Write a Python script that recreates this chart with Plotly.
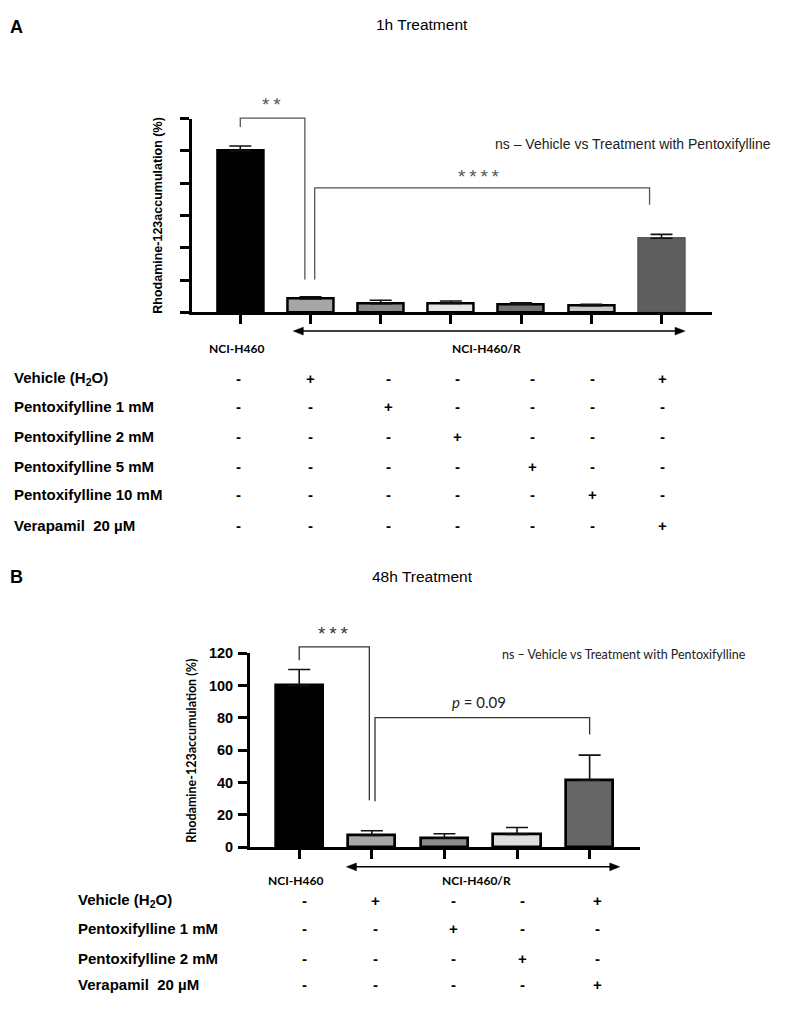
import plotly.graph_objects as go

W, H = 787, 1009

# ---------------- data ----------------
a_groups = ["NCI-H460", "Vehicle", "PTX 1 mM", "PTX 2 mM", "PTX 5 mM", "PTX 10 mM", "Verapamil 20 µM"]
a_means = [100, 8.3, 5.4, 5.6, 5.0, 4.1, 45.9]
a_upper = [103, 9.7, 7.5, 7.1, 6.0, 5.0, 48.3]

b_groups = ["NCI-H460", "Vehicle", "PTX 1 mM", "PTX 2 mM", "Verapamil 20 µM"]
b_means = [100, 7.3, 5.7, 7.9, 41.4]
b_upper = [110, 10.2, 8.3, 12.2, 57.0]

y_ticks = [0, 20, 40, 60, 80, 100, 120]

a_row_labels = ["Vehicle (H<sub>2</sub>O)", "Pentoxifylline 1 mM", "Pentoxifylline 2 mM",
                "Pentoxifylline 5 mM", "Pentoxifylline 10 mM", "Verapamil  20 µM"]
a_table = [[0, 1, 0, 0, 0, 0, 1],
           [0, 0, 1, 0, 0, 0, 0],
           [0, 0, 0, 1, 0, 0, 0],
           [0, 0, 0, 0, 1, 0, 0],
           [0, 0, 0, 0, 0, 1, 0],
           [0, 0, 0, 0, 0, 0, 1]]

b_row_labels = ["Vehicle (H<sub>2</sub>O)", "Pentoxifylline 1 mM", "Pentoxifylline 2 mM", "Verapamil  20 µM"]
b_table = [[0, 1, 0, 0, 1],
           [0, 0, 1, 0, 0],
           [0, 0, 0, 1, 0],
           [0, 0, 0, 0, 1]]

# ---------------- styles ----------------
a_fill = ["#000000", "#a6a6a6", "#8c8c8c", "#e6e6e6", "#737373", "#c8c8c8", "#5f5f5f"]
a_line = ["#000000"] * 6 + ["#5a5a5a"]
b_fill = ["#000000", "#a6a6a6", "#8c8c8c", "#dedede", "#666666"]
b_line = ["#000000"] * 5

ARIAL = "Liberation Sans, Arial, sans-serif"
CALIBRI = "Lato, Carlito, Calibri, sans-serif"


def px(x):
    return x / W


def py(y):
    return 1 - y / H


# axis geometry (pixels)
A_X0, A_X1, A_Y0, A_Y1 = 191.7, 711.7, 309.3, 112.3
B_X0, B_X1, B_Y0, B_Y1 = 250.0, 640.0, 852.7, 655.7
A_XR = [-0.692, 6.715]
B_XR = [-0.678, 4.694]
YR = [0, 120]


def d2p(panel, x, y):
    if panel == "A":
        x0, x1, y0, y1, xr = A_X0, A_X1, A_Y0, A_Y1, A_XR
    else:
        x0, x1, y0, y1, xr = B_X0, B_X1, B_Y0, B_Y1, B_XR
    pxv = x0 + (x - xr[0]) / (xr[1] - xr[0]) * (x1 - x0)
    pyv = y0 - (y - YR[0]) / (YR[1] - YR[0]) * (y0 - y1)
    return pxv, pyv


fig = go.Figure()

fig.add_trace(go.Bar(
    x=list(range(len(a_means))), y=a_means, width=0.655,
    marker=dict(color=a_fill, line=dict(color=a_line, width=2.5)),
    error_y=dict(type="data", symmetric=False,
                 array=[u - m for u, m in zip(a_upper, a_means)],
                 arrayminus=[0] * len(a_means), color="#111111", thickness=1.6, width=11),
    xaxis="x", yaxis="y", showlegend=False, hovertext=a_groups))

fig.add_trace(go.Bar(
    x=list(range(len(b_means))), y=b_means, width=0.65,
    marker=dict(color=b_fill, line=dict(color=b_line, width=2.7)),
    error_y=dict(type="data", symmetric=False,
                 array=[u - m for u, m in zip(b_upper, b_means)],
                 arrayminus=[0] * len(b_means), color="#111111", thickness=1.6, width=11),
    xaxis="x2", yaxis="y2", showlegend=False, hovertext=b_groups))

axis_common = dict(showgrid=False, zeroline=False, showline=True, linecolor="black",
                   linewidth=3, ticks="outside", tickwidth=3, tickcolor="black", ticklen=9)

fig.update_layout(
    width=W, height=H, margin=dict(l=0, r=0, t=0, b=0),
    paper_bgcolor="white", plot_bgcolor="white",
    xaxis=dict(domain=[px(A_X0), px(A_X1)], range=A_XR, anchor="y",
               tickvals=list(range(len(a_means))), showticklabels=False, **axis_common),
    yaxis=dict(domain=[py(A_Y0), py(A_Y1)], range=YR, anchor="x",
               tickvals=y_ticks, showticklabels=False, **axis_common),
    xaxis2=dict(domain=[px(B_X0), px(B_X1)], range=B_XR, anchor="y2",
                tickvals=list(range(len(b_means))), showticklabels=False, **axis_common),
    yaxis2=dict(domain=[py(B_Y0), py(B_Y1)], range=YR, anchor="x2",
                tickvals=y_ticks, showticklabels=True, ticklabelstandoff=2,
                tickfont=dict(family=ARIAL, size=14.5, color="black", weight="bold"), **axis_common),
    bargap=0,
)

shapes = []
annotations = []


def text(xp, yp, s, size, family=ARIAL, bold=False, color="black", xanchor="center", angle=0):
    if bold:
        s = "<b>" + s + "</b>"
    annotations.append(dict(x=px(xp), y=py(yp), xref="paper", yref="paper", text=s,
                            showarrow=False, xanchor=xanchor, yanchor="middle",
                            textangle=angle,
                            font=dict(family=family, size=size, color=color)))


def path_shape(points, color, width, fill=None, close=False):
    d = "M " + " L ".join("{},{}".format(px(a), py(b)) for a, b in points)
    if close:
        d += " Z"
    s = dict(type="path", path=d, xref="paper", yref="paper",
             line=dict(color=color, width=width))
    if fill:
        s["fillcolor"] = fill
    shapes.append(s)


def bracket(panel, xl, ylb, xr, yrb, ytop, color, width=1.3):
    pts = [d2p(panel, xl, ylb), d2p(panel, xl, ytop), d2p(panel, xr, ytop), d2p(panel, xr, yrb)]
    path_shape(pts, color, width)


def arrow(panel, xl, xr, ypix):
    l = d2p(panel, xl, 0)[0]
    r = d2p(panel, xr, 0)[0]
    hl, hw = 10, 4
    path_shape([(l + hl - 1, ypix), (r - hl + 1, ypix)], "black", 1.5)
    path_shape([(l, ypix), (l + hl, ypix - hw), (l + hl, ypix + hw)], "black", 0.5, fill="black", close=True)
    path_shape([(r, ypix), (r - hl, ypix - hw), (r - hl, ypix + hw)], "black", 0.5, fill="black", close=True)


# ---- panel A annotations ----
text(8, 19, "A", 18, bold=True, xanchor="left")
text(422, 17, "1h Treatment", 15.5)
text(158.3, 210.8, "Rhodamine-123accumulation (%)", 12.5, bold=True, angle=-90)
text(493.3, 138.3, "ns – Vehicle vs Treatment with Pentoxifylline", 14, xanchor="left", color="#222222")
bracket("A", 0.0, 114.7, 0.92, 20.3, 120.3, "#555555")
bracket("A", 1.06, 20.3, 5.83, 66.6, 77.1, "#555555")
sx, sy = d2p("A", 0.45, 130.5)
text(sx, sy + 3, "*\u2009*", 19, color="#555555")
sx, sy = d2p("A", 3.40, 85.9)
text(sx, sy + 3, "*\u2009*\u2009*\u2009*", 19, color="#555555")
arrow("A", 0.755, 6.335, 328.3)
text(236.7, 345.5, "NCI-H460", 12, family=CALIBRI, bold=True)
text(486.7, 345.5, "NCI-H460/R", 12, family=CALIBRI, bold=True)

a_row_y = [376.7, 404.5, 435.0, 465.7, 494.3, 526.0]
a_col_x = [238.3, 310.5, 388.0, 457.0, 532.5, 592.0, 662.0]
for r, lab in enumerate(a_row_labels):
    text(11.5, a_row_y[r], lab, 15, bold=True, xanchor="left")
    for c, v in enumerate(a_table[r]):
        text(a_col_x[c], a_row_y[r], "+" if v else "-", 15, bold=True)

# ---- panel B annotations ----
text(8, 578, "B", 18, bold=True, xanchor="left")
text(422, 578, "48h Treatment", 15.5)
text(190.7, 755, "Rhodamine-123accumulation (%)", 12.5, family=CALIBRI, bold=True, angle=-90)
text(500, 656.7, "ns – Vehicle vs Treatment with Pentoxifylline", 12.5, family=CALIBRI, xanchor="left", color="#222222")
bracket("B", 0.0, 115.7, 0.966, 29.0, 124.0, "#333333")
bracket("B", 1.044, 28.4, 4.0, 69.7, 80.2, "#333333")
sx, sy = d2p("B", 0.46, 134.2)
text(sx, sy + 3, "*\u2009*\u2009*", 19, color="#333333")
sx, sy = d2p("B", 2.47, 89.9)
text(sx, sy, "<i>p</i> = 0.09", 15, family=CALIBRI, color="#222222")
arrow("B", 0.65, 4.415, 872.7)
text(295, 886.7, "NCI-H460", 12, family=CALIBRI, bold=True)
text(476.7, 886.5, "NCI-H460/R", 12, family=CALIBRI, bold=True)

b_row_y = [906.7, 935.0, 966.0, 992.3]
b_col_x = [304.0, 375.0, 453.3, 522.7, 597.3]
for r, lab in enumerate(b_row_labels):
    text(76, b_row_y[r], lab, 15, bold=True, xanchor="left")
    for c, v in enumerate(b_table[r]):
        text(b_col_x[c], b_row_y[r], "+" if v else "-", 15, bold=True)

fig.update_layout(shapes=shapes, annotations=annotations)

fig.write_html("out.html", config={"displayModeBar": False},
               post_script="document.body.style.margin='0';")
